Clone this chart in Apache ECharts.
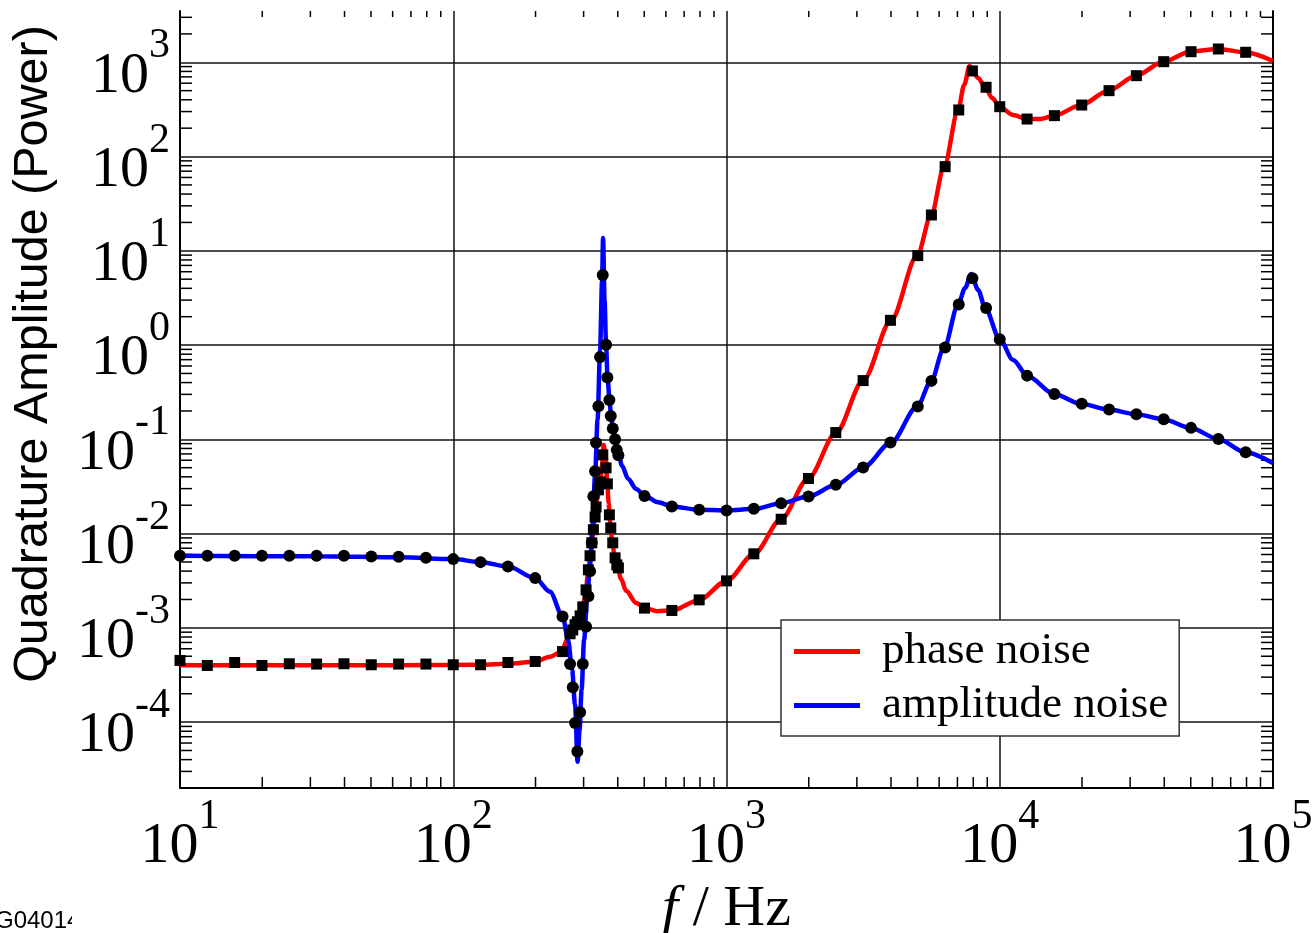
<!DOCTYPE html>
<html><head><meta charset="utf-8">
<script src="https://cdn.jsdelivr.net/npm/echarts@6/dist/echarts.min.js"></script>
<style>html,body{margin:0;padding:0;background:#fff}#c{width:1316px;height:933px}</style>
</head><body><div id="c"></div>
<script>
// ---- data ----
const seriesNames = ['phase noise', 'amplitude noise'];
const xTickLabels = ['10^1', '10^2', '10^3', '10^4', '10^5'];

// smooth curves
const phaseLineF = [10, 64, 126, 159, 199, 226, 249.5, 261, 274.5, 286, 296, 304, 311.5, 319.5, 328, 336, 344.6, 350.5, 355, 361, 365.6, 370.3, 375, 381.3, 387.8, 397.7, 411.4, 429, 467, 503, 557, 632, 794, 1000, 1262, 1584, 1990, 2519, 3162, 4005, 4986, 5610, 6258, 7042, 7408, 7759, 8335, 8843, 9380, 10000, 11194, 12598, 14058, 15818, 19860, 24940, 31573, 39640, 49770, 63010, 79120, 100000];
const phaseLineV = [4.0e-4, 4.0e-4, 4.06e-4, 4.16e-4, 4.36e-4, 4.93e-4, 5.60e-4, 7.47e-4, 9.77e-4, 1.19e-3, 1.553e-3, 2.13e-3, 3.84e-3, 6.72e-3, 1.30e-2, 2.28e-2, 3.54e-2, 5.36e-2, 8.73e-2, 6.84e-2, 3.72e-2, 2.12e-2, 1.33e-2, 8.59e-3, 6.25e-3, 4.55e-3, 3.31e-3, 2.47e-3, 1.84e-3, 1.62e-3, 1.50e-3, 1.53e-3, 1.98e-3, 3.15e-3, 6.10e-3, 1.42e-2, 3.84e-2, 0.118, 0.420, 1.83, 8.89, 24.0, 78.1, 312, 574, 914, 681, 543, 418, 338, 276, 250, 250, 271.5, 352, 500, 721, 1015, 1295, 1384, 1277, 1032];

const ampLineF = [10, 31.7, 64, 100, 126.4, 158.7, 199.3, 226, 251.6, 263.2, 272.2, 279.1, 285.1, 290, 294.9, 301.2, 308.9, 316.7, 323.6, 330.4, 337.4, 344.6, 350.5, 353.4, 357.9, 362.5, 367.1, 373.4, 378.1, 384.5, 391.1, 401.1, 414.9, 436.4, 466.9, 503, 561.9, 632, 794, 1000, 1262, 1584, 1990, 2519, 3162, 4005, 4986, 5610, 6258, 7042, 7471, 7858, 8335, 8843, 10000, 11194, 12598, 15818, 19860, 24940, 31573, 39640, 49770, 63010, 79120, 100000];
const ampLineV = [5.81e-3, 5.74e-3, 5.60e-3, 5.36e-3, 4.98e-3, 4.47e-3, 3.37e-3, 2.41e-3, 1.32e-3, 7.47e-4, 3.59e-4, 1.53e-4, 3.80e-5, 8.29e-5, 2.20e-4, 7.47e-4, 1.98e-3, 4.66e-3, 1.24e-2, 4.20e-2, 0.161, 0.889, 4.91, 13.7, 3.01, 1.0, 0.448, 0.256, 0.173, 0.129, 0.101, 0.0718, 0.0523, 0.0381, 0.0298, 0.0251, 0.0215, 0.0194, 0.0179, 0.0176, 0.0183, 0.0210, 0.0247, 0.0329, 0.0502, 0.0924, 0.2225, 0.417, 0.940, 2.70, 4.04, 5.69, 3.85, 2.48, 1.154, 0.696, 0.474, 0.303, 0.238, 0.207, 0.185, 0.1636, 0.1323, 0.101, 0.0731, 0.0559];

// markers (squares on phase noise, circles on amplitude noise)
const phaseMarkF = [10, 12.59, 15.85, 19.95, 25.12, 31.62, 39.81, 50.12, 63.1, 79.43, 100, 125.9, 158.5, 199.5, 251.2, 267.6, 273.8, 279.1, 284.6, 291.2, 297.9, 306.3, 312.3, 316.7, 321.3, 325.7, 330.4, 333.2, 339.8, 344.6, 352.5, 362.5, 366.4, 372.7, 377.1, 383.5, 391.1, 396.7, 402.1, 501.2, 631, 794.3, 1000, 1259, 1585, 1995, 2512, 3162, 3981, 5012, 5623, 6310, 7079, 7943, 8913, 10000, 12589, 15849, 19953, 25119, 31623, 39811, 50119, 63096, 79433];
const phaseMarkV = [4.51e-4, 3.99e-4, 4.29e-4, 3.99e-4, 4.16e-4, 4.13e-4, 4.16e-4, 4.06e-4, 4.13e-4, 4.13e-4, 4.06e-4, 4.06e-4, 4.29e-4, 4.40e-4, 5.60e-4, 8.65e-4, 9.5e-4, 1.08e-3, 1.16e-3, 1.34e-3, 1.67e-3, 2.53e-3, 4.13e-3, 5.82e-3, 7.98e-3, 1.10e-2, 1.50e-2, 1.92e-2, 2.91e-2, 3.54e-2, 6.84e-2, 4.98e-2, 3.37e-2, 1.58e-2, 1.15e-2, 7.98e-3, 5.53e-3, 4.66e-3, 4.33e-3, 1.62e-3, 1.53e-3, 1.98e-3, 3.15e-3, 6.10e-3, 1.42e-2, 3.84e-2, 0.118, 0.420, 1.83, 8.89, 24.0, 78.1, 312, 809, 543, 338, 250, 271.5, 352, 500, 721, 1015, 1295, 1384, 1277];

const ampMarkF = [10, 12.59, 15.85, 19.95, 25.12, 31.62, 39.81, 50.12, 63.1, 79.43, 100, 125.9, 158.5, 199.5, 251.2, 267.6, 273.8, 279.1, 284.6, 291.2, 297.9, 306.3, 312.3, 316.7, 321.3, 325.7, 330.4, 333.2, 339.8, 344.6, 352.5, 362.5, 366.4, 372.7, 377.1, 383.5, 391.1, 396.7, 402.1, 501.2, 631, 794.3, 1000, 1259, 1585, 1995, 2512, 3162, 3981, 5012, 5623, 6310, 7079, 7943, 8913, 10000, 12589, 15849, 19953, 25119, 31623, 39811, 50119, 63096, 79433];
const ampMarkV = [5.81e-3, 5.81e-3, 5.81e-3, 5.81e-3, 5.81e-3, 5.81e-3, 5.81e-3, 5.71e-3, 5.67e-3, 5.53e-3, 5.36e-3, 4.98e-3, 4.47e-3, 3.37e-3, 1.32e-3, 4.13e-4, 2.34e-4, 9.79e-5, 4.87e-5, 1.27e-4, 4.13e-4, 1.03e-3, 2.17e-3, 3.99e-3, 8.0e-3, 0.0249, 0.0458, 0.0919, 0.224, 0.749, 5.55, 1.01, 0.454, 0.262, 0.177, 0.130, 0.100, 0.0773, 0.0678, 0.0251, 0.0194, 0.0179, 0.0176, 0.0183, 0.0210, 0.0247, 0.0329, 0.0502, 0.0924, 0.2225, 0.417, 0.940, 2.70, 5.12, 2.48, 1.154, 0.474, 0.303, 0.238, 0.207, 0.185, 0.1636, 0.1323, 0.101, 0.0731];

// ---- chart ----
const X_MIN = 10, X_MAX = 100000, Y_MIN = 2e-5, Y_MAX = 3500;
const zip = (a, b) => a.map((v, i) => [v, b[i]]);

// minor tick positions (2..9 x each decade) inside axis range
const xMinor = [], yMinor = [];
for (let e = 1; e < 5; e++) for (let m = 2; m <= 9; m++) xMinor.push(m * Math.pow(10, e));
for (let e = -5; e <= 3; e++) for (let m = 2; m <= 9; m++) {
  const v = m * Math.pow(10, e);
  if (v >= Y_MIN * 0.999 && v <= Y_MAX) yMinor.push(v);
}

const serif = 'Liberation Serif';
function powLabel(v) {
  const e = Math.log10(v);
  const r = Math.round(e);
  if (Math.abs(e - r) > 0.01) return '';
  return '{b|10}{s|' + r + '}';
}
const labelRich = {
  b: { fontFamily: serif, fontSize: 58, lineHeight: 58, verticalAlign: 'bottom', color: '#000' },
  s: { fontFamily: serif, fontSize: 42, lineHeight: 42, verticalAlign: 'bottom', padding: [0, 0, 38, 0], color: '#000' }
};

const chart = echarts.init(document.getElementById('c'), null, { renderer: 'canvas' });
chart.setOption({
  animation: false,
  backgroundColor: '#fff',
  grid: { left: 180, right: 43, top: 11, bottom: 145, containLabel: false, outerBoundsMode: 'none' },
  legend: {
    orient: 'vertical', left: 781, top: 620,
    data: [{ name: seriesNames[0], icon: 'rect' }, { name: seriesNames[1], icon: 'rect' }],
    itemWidth: 66, itemHeight: 5, itemGap: 9,
    padding: [9, 11, 8, 13],
    backgroundColor: '#fff', borderColor: '#333', borderWidth: 1.5, borderRadius: 0,
    textStyle: { fontFamily: serif, fontSize: 45, color: '#000', lineHeight: 45, padding: [0, 0, 0, 17] },
    selectedMode: false, z: 20
  },
  xAxis: {
    type: 'log', logBase: 10, min: X_MIN, max: X_MAX, splitNumber: 4,
    name: '{i|f} / Hz', nameLocation: 'middle', nameGap: 88,
    nameTextStyle: { fontFamily: serif, fontSize: 58, color: '#000',
      rich: { i: { fontFamily: serif, fontSize: 58, fontStyle: 'italic', color: '#000' } } },
    axisLine: { show: true, lineStyle: { color: '#000', width: 2 } },
    axisTick: { show: false },
    splitLine: { show: true, lineStyle: { color: '#111', width: 1.5 } },
    axisLabel: { formatter: powLabel, rich: labelRich, margin: 30, showMinLabel: true, showMaxLabel: true, hideOverlap: false }
  },
  yAxis: [{
    type: 'log', logBase: 10, min: Y_MIN, max: Y_MAX, splitNumber: 10,
    name: 'Quadrature Amplitude (Power)', nameLocation: 'middle', nameRotate: 90, nameGap: 122,
    nameTextStyle: { fontFamily: 'Liberation Sans', fontSize: 48.5, color: '#000', padding: [0, 0, 0, 91] },
    axisLine: { show: true, lineStyle: { color: '#000', width: 2 } },
    axisTick: { show: false },
    splitLine: { show: true, showMaxLine: false, showMinLine: false, lineStyle: { color: '#111', width: 1.5 } },
    axisLabel: { formatter: powLabel, rich: labelRich, margin: 10, padding: [28, 0, 0, 0], showMinLabel: true, showMaxLabel: true, hideOverlap: false }
  }, {
    type: 'log', logBase: 10, min: Y_MIN, max: Y_MAX, position: 'right',
    axisLine: { show: true, onZero: false, lineStyle: { color: '#000', width: 2 } },
    axisTick: { show: false }, axisLabel: { show: false }, splitLine: { show: false }
  }],
  series: [
    {
      name: seriesNames[0], type: 'line', data: zip(phaseLineF, phaseLineV),
      showSymbol: false, symbol: 'none', smooth: 0.3, smoothMonotone: 'x',
      lineStyle: { color: '#ff0000', width: 4.5 }, itemStyle: { color: '#ff0000' }, z: 3
    },
    {
      name: seriesNames[1], type: 'line', data: zip(ampLineF, ampLineV),
      showSymbol: false, symbol: 'none', smooth: 0.3, smoothMonotone: 'x',
      lineStyle: { color: '#0000ff', width: 4.5 }, itemStyle: { color: '#0000ff' }, z: 4
    },
    {
      name: 'phase markers', type: 'scatter', data: zip(phaseMarkF, phaseMarkV),
      symbol: 'rect', symbolSize: 11, itemStyle: { color: '#000', opacity: 1 }, z: 5, silent: true
    },
    {
      name: 'amplitude markers', type: 'scatter', data: zip(ampMarkF, ampMarkV),
      symbol: 'circle', symbolSize: 12, itemStyle: { color: '#000', opacity: 1 }, z: 6, silent: true
    },
    {
      name: 'yMinorTicks', type: 'custom', data: yMinor.map(v => [X_MIN, v]), encode: { x: 0, y: 1 },
      silent: true, clip: false, z: 2,
      renderItem: (params, api) => {
        const p = api.coord([api.value(0), api.value(1)]);
        const cs = params.coordSys;
        const st = { stroke: '#000', lineWidth: 1.5 };
        return { type: 'group', children: [
          { type: 'line', shape: { x1: cs.x, y1: p[1], x2: cs.x + 12, y2: p[1] }, style: st },
          { type: 'line', shape: { x1: cs.x + cs.width - 12, y1: p[1], x2: cs.x + cs.width, y2: p[1] }, style: st }
        ] };
      }
    },
    {
      name: 'xMinorTicks', type: 'custom', data: xMinor.map(v => [v, Y_MIN]), encode: { x: 0, y: 1 },
      silent: true, clip: false, z: 2,
      renderItem: (params, api) => {
        const p = api.coord([api.value(0), api.value(1)]);
        const cs = params.coordSys;
        const st = { stroke: '#000', lineWidth: 1.5 };
        return { type: 'group', children: [
          { type: 'line', shape: { x1: p[0], y1: cs.y + cs.height, x2: p[0], y2: cs.y + cs.height - 11 }, style: st },
          { type: 'line', shape: { x1: p[0], y1: cs.y, x2: p[0], y2: cs.y + 6 }, style: st }
        ] };
      }
    }
  ],
  graphic: [
    { type: 'text', x: -5, y: 909, style: { text: 'G04014', fontFamily: 'Liberation Sans', fontSize: 24, fill: '#000' }, z: 30 },
    { type: 'rect', x: 72, y: 900, shape: { width: 30, height: 33 }, style: { fill: '#fff' }, z: 31 }
  ]
});
</script></body></html>
